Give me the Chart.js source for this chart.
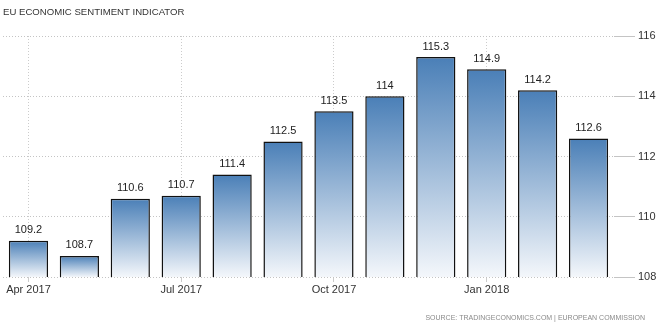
<!DOCTYPE html>
<html>
<head>
<meta charset="utf-8">
<script src="https://cdn.jsdelivr.net/npm/chart.js@4/dist/chart.umd.min.js"></script>
<style>
  html, body { margin: 0; padding: 0; background: #fff; }
  #wrap { width: 661px; height: 327px; position: relative; }
</style>
</head>
<body>
<div id="wrap"><canvas id="sentimentChart"></canvas></div>
<script>
const months = ["Apr 2017", "May 2017", "Jun 2017", "Jul 2017", "Aug 2017", "Sep 2017",
                "Oct 2017", "Nov 2017", "Dec 2017", "Jan 2018", "Feb 2018", "Mar 2018"];
const sentiment = [109.2, 108.7, 110.6, 110.7, 111.4, 112.5, 113.5, 114, 115.3, 114.9, 114.2, 112.6];
const yTicks = [108, 110, 112, 114, 116];

const chartTitle = "EU ECONOMIC SENTIMENT INDICATOR";
const sourceText = "SOURCE: TRADINGECONOMICS.COM | EUROPEAN COMMISSION";

const ctx = document.getElementById("sentimentChart").getContext("2d");
const fontFamily = "'Liberation Sans', Arial, sans-serif";

// gradient per bar: dark blue on top, nearly white at the base
function barGradient(context) {
    const chart = context.chart;
    if (!chart.chartArea || context.type !== "data") return "#6b98c6";
    const yScale = chart.scales.y;
    const top = yScale.getPixelForValue(sentiment[context.dataIndex]);
    const bottom = yScale.getPixelForValue(yScale.min);
    const g = chart.ctx.createLinearGradient(0, top, 0, bottom);
    g.addColorStop(0, "#4a7fb7");
    g.addColorStop(1, "#f4f7fb");
    return g;
}

const textPlugin = {
    id: "textPlugin",
    afterDraw(chart) {
        const c = chart.ctx;
        c.save();
        c.fillStyle = "#333";
        c.font = "9.6px " + fontFamily;
        c.textBaseline = "middle";
        c.textAlign = "left";
        c.fillText(chartTitle, 3, 12);

        c.fillStyle = "#8a8a8a";
        c.font = "7px " + fontFamily;
        c.textAlign = "right";
        c.fillText(sourceText, 645, 318);

        // value labels above bars
        c.fillStyle = "#222";
        c.font = "11px " + fontFamily;
        c.textAlign = "center";
        c.textBaseline = "bottom";
        const meta = chart.getDatasetMeta(0);
        meta.data.forEach((bar, i) => {
            c.fillText(String(sentiment[i]), bar.x, bar.y - 5);
        });
        c.restore();
    }
};

const sentimentChart = new Chart(ctx, {
    type: "bar",
    data: {
        labels: months,
        datasets: [{
            data: sentiment,
            backgroundColor: barGradient,
            borderColor: "#111",
            borderWidth: 1.5,
            borderSkipped: false,
            barPercentage: 0.77,
            categoryPercentage: 1
        }]
    },
    options: {
        responsive: true,
        maintainAspectRatio: false,
        animation: false,
        layout: { padding: { top: 36, left: 3, right: 0, bottom: 0 } },
        plugins: {
            legend: { display: false },
            tooltip: { enabled: false }
        },
        scales: {
            x: {
                grid: {
                    offset: false,
                    color: (c) => (c.index % 3 === 0 ? "#cccccc" : "rgba(0,0,0,0)"),
                    drawTicks: true,
                    tickLength: 5
                },
                border: { display: false, dash: [1, 2] },
                ticks: {
                    autoSkip: false,
                    maxRotation: 0,
                    padding: 1,
                    color: "#333",
                    font: { family: fontFamily, size: 11 },
                    callback: (v, i) => (i % 3 === 0 ? months[i] : "")
                },
                afterFit: (s) => { s.height = 50; }
            },
            y: {
                position: "right",
                min: 108,
                max: 116,
                afterBuildTicks: (s) => { s.ticks = yTicks.map(v => ({ value: v })); },
                grid: { color: "#c4c4c4", tickLength: 21 },
                border: { display: false, dash: [1, 2] },
                ticks: {
                    padding: 3,
                    color: "#333",
                    font: { family: fontFamily, size: 11 }
                },
                afterFit: (s) => { s.width = 47; }
            }
        }
    },
    plugins: [textPlugin]
});
</script>
</body>
</html>
